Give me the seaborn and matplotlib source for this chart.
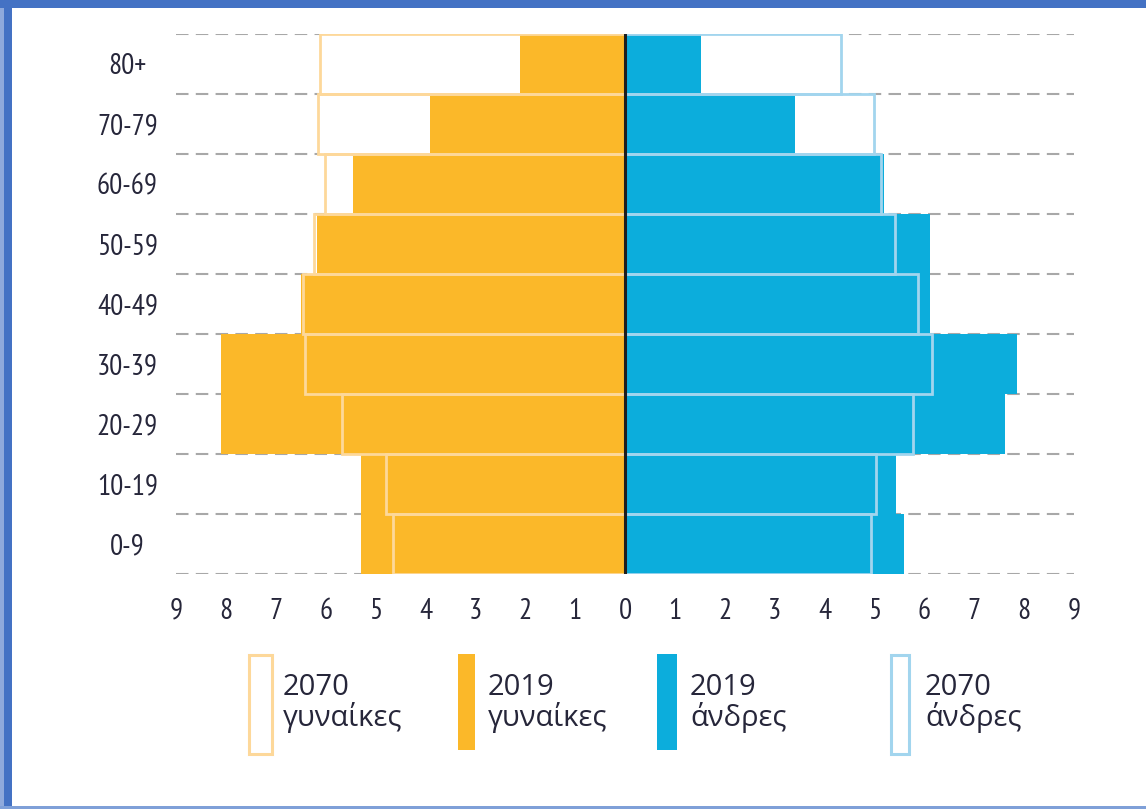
import numpy as np
import matplotlib
matplotlib.use("Agg")
import matplotlib.pyplot as plt
import seaborn as sns
from matplotlib.patches import Rectangle

# data (% of population)
ages = ['80+', '70-79', '60-69', '50-59', '40-49', '30-39', '20-29', '10-19', '0-9']
women_2019 = [2.1, 3.9, 5.45, 6.17, 6.5, 8.1, 8.1, 5.3, 5.3]
women_2070 = [6.12, 6.15, 6.02, 6.23, 6.45, 6.42, 5.67, 4.8, 4.65]
men_2019 = [1.52, 3.4, 5.2, 6.12, 6.12, 7.85, 7.62, 5.44, 5.6]
men_2070 = [4.32, 4.99, 5.13, 5.41, 5.87, 6.15, 5.78, 5.03, 4.94]

x_ticks = list(range(-9, 10))
x_labels = [str(abs(t)) for t in x_ticks]

legend_years = ['2070', '2019', '2019', '2070']
legend_words = ['γυναίκες', 'γυναίκες', 'άνδρες', 'άνδρες']

# colours
ORANGE = '#FBB829'
BLUE = '#0CADDC'
ORANGE_LIGHT = '#FDD89A'
BLUE_LIGHT = '#A2D5EE'
FRAME = '#4472C4'
TEXT = '#26263A'
NARROW = ['PT Sans Narrow', 'Roboto Condensed', 'Liberation Sans Narrow', 'Open Sans', 'DejaVu Sans']

sns.set_style('white')
plt.rcParams['font.family'] = ['Open Sans', 'DejaVu Sans']

W, H = 1146, 809
fig = plt.figure(figsize=(W / 100, H / 100), dpi=100)


def fx(x):
    return x / W


def fy(y):
    return 1 - y / H


ax = fig.add_axes([fx(176), fy(574), fx(1074) - fx(176), fy(34) - fy(574)])

neg_w19 = [-v for v in women_2019]
neg_w70 = [-v for v in women_2070]

# white base for 2070 bars, then 2019 fills, then 2070 outlines on top
for vals in (neg_w70, men_2070):
    sns.barplot(x=vals, y=ages, order=ages, orient='h', width=1.0, color='white',
                saturation=1, linewidth=0, ax=ax)
sns.barplot(x=neg_w19, y=ages, order=ages, orient='h', width=1.0, color=ORANGE,
            saturation=1, linewidth=0, ax=ax)
sns.barplot(x=men_2019, y=ages, order=ages, orient='h', width=1.0, color=BLUE,
            saturation=1, linewidth=0, ax=ax)
sns.barplot(x=neg_w70, y=ages, order=ages, orient='h', width=1.0, color=ORANGE_LIGHT,
            saturation=1, fill=False, linewidth=2.0, ax=ax)
sns.barplot(x=men_2070, y=ages, order=ages, orient='h', width=1.0, color=BLUE_LIGHT,
            saturation=1, fill=False, linewidth=2.0, ax=ax)

# dashed row separators behind the bars
bounds = np.arange(len(ages) + 1) - 0.5
ax.hlines(bounds, -9, 9, colors='#A8A8A8', linestyles=(0, (6, 3.5)), linewidth=1.5, zorder=0)

ax.axvline(0, color='#1E1E1E', linewidth=2.2, zorder=5)

ax.set_xlim(-9, 9)
ax.set_ylim(len(ages) - 0.5, -0.5)
ax.set_xticks(x_ticks, x_labels)
ax.set_xlabel('')
ax.set_ylabel('')
for s in ax.spines.values():
    s.set_visible(False)
ax.tick_params(axis='both', length=0, colors=TEXT)
ax.tick_params(axis='x', pad=17)
ax.tick_params(axis='y', pad=35)
for lab in ax.get_xticklabels() + ax.get_yticklabels():
    lab.set_fontfamily(NARROW)
    lab.set_fontsize(21)
for lab in ax.get_yticklabels():
    lab.set_horizontalalignment('center')
ax.grid(False)

# legend drawn by hand: tall narrow swatches with two-line labels
swatches = [
    (249, 655, 23, 99, 'white', ORANGE_LIGHT),
    (458, 654, 17, 96, ORANGE, 'none'),
    (657, 654, 20, 96, BLUE, 'none'),
    (891, 655, 18, 99, 'white', BLUE_LIGHT),
]
text_x = [283, 488, 690, 925]
for (x0, y0, w, h, fc, ec), tx, yr, word in zip(swatches, text_x, legend_years, legend_words):
    fig.add_artist(Rectangle((fx(x0), fy(y0 + h)), w / W, h / H, transform=fig.transFigure,
                             facecolor=fc, edgecolor=ec, linewidth=2.2))
    fig.text(fx(tx), fy(695), yr, fontsize=21, color=TEXT, va='baseline', ha='left')
    fig.text(fx(tx), fy(726), word, fontsize=21, color=TEXT, va='baseline', ha='left')

# blue frame (left, top and a thin bottom line)
fig.add_artist(Rectangle((0, 0), fx(4), 1, transform=fig.transFigure,
                         facecolor='#8FAADC', edgecolor='none'))
fig.add_artist(Rectangle((fx(4), 0), fx(8), 1, transform=fig.transFigure,
                         facecolor=FRAME, edgecolor='none'))
fig.add_artist(Rectangle((0, fy(8)), 1, 8 / H, transform=fig.transFigure,
                         facecolor=FRAME, edgecolor='none'))
fig.add_artist(Rectangle((0, 0), 1, 3 / H, transform=fig.transFigure,
                         facecolor='#7FA0D8', edgecolor='none'))

fig.savefig('out.png', dpi=100)
